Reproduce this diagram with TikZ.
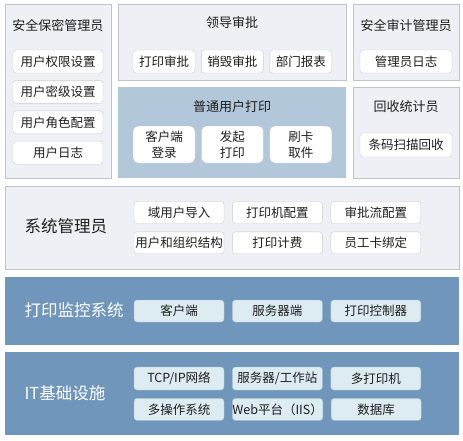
\documentclass[tikz,border=0pt]{standalone}
\usepackage{fontspec}
\setmainfont{Noto Sans CJK SC}
\usetikzlibrary{positioning}
\definecolor{panelfill}{HTML}{EEF0F5}
\definecolor{panelline}{HTML}{BFC4CB}
\definecolor{userfill}{HTML}{B2C7DA}
\definecolor{darkfill}{HTML}{7096BC}
\definecolor{cellline}{HTML}{C8CCD2}
\definecolor{darkcellfill}{HTML}{DCECF1}
\definecolor{darkcellline}{HTML}{A8C0D2}
\definecolor{inktext}{HTML}{1E1E1E}
\tikzset{
  panel/.style={draw=panelline,fill=panelfill,anchor=north west,inner sep=0pt},
  userpanel/.style={panel,draw=none,fill=userfill},
  darkpanel/.style={panel,draw=none,fill=darkfill},
  cell/.style={draw=cellline,fill=white,rounded corners=3pt,inner sep=0pt,minimum height=23pt,align=center,text=inktext,font=\fontsize{12.5}{15.5}\selectfont},
  darkcell/.style={cell,draw=darkcellline,fill=darkcellfill},
  title/.style={text=inktext,font=\fontsize{13}{15}\selectfont},
  bigtitle/.style={anchor=west,text=inktext,font=\fontsize{16.5}{19}\selectfont},
}

\begin{document}
\begin{tikzpicture}[x=1pt,y=-1pt]
  \fill[white] (0,0) rectangle (463,440);
  % panels
  \node[panel,minimum width=106pt,minimum height=174pt] (secpanel) at (5,4) {};
  \node[panel,minimum width=228pt,minimum height=76pt] (leadpanel) at (118,4) {};
  \node[userpanel,minimum width=228pt,minimum height=91pt] (userpanel) at (118,87) {};
  \node[panel,minimum width=106pt,minimum height=76pt] (auditpanel) at (353,4) {};
  \node[panel,minimum width=106pt,minimum height=91pt] (recpanel) at (353,87) {};
  \node[panel,minimum width=454pt,minimum height=83pt] (syspanel) at (5,186) {};
  \node[darkpanel,minimum width=454pt,minimum height=68pt] (monpanel) at (5,277) {};
  \node[darkpanel,minimum width=454pt,minimum height=83pt] (infrapanel) at (5,352) {};
  % titles
  \node[title] (sectitle) at (58,26) {安全保密管理员};
  \node[title] (leadtitle) at (232,23) {领导审批};
  \node[title] (audittitle) at (406,26) {安全审计管理员};
  \node[title] (usertitle) at (232,107) {普通用户打印};
  \node[title] (rectitle) at (406,107) {回收统计员};
  \node[bigtitle] (systitle) at (21,226) {系统管理员};
  \node[bigtitle,text=white] (montitle) at (21,310) {\mdseries 打印监控系统};
  \node[bigtitle,text=white] (infratitle) at (21,393) {IT基础设施};
  % security admin
  \node[cell,minimum width=90pt] (perm) at (58,61.5) {用户权限设置};
  \node[cell,minimum width=90pt,below=7pt of perm] (secret) {用户密级设置};
  \node[cell,minimum width=90pt,below=7pt of secret] (role) {用户角色配置};
  \node[cell,minimum width=90pt,below=7pt of role] (userlog) {用户日志};
  % leaders
  \node[cell,minimum width=62pt] (printok) at (164,61.5) {打印审批};
  \node[cell,minimum width=62pt,right=6pt of printok] (destroyok) {销毁审批};
  \node[cell,minimum width=62pt,right=6pt of destroyok] (report) {部门报表};
  % ordinary users
  \node[cell,minimum width=62pt,minimum height=37pt,rounded corners=5pt] (login) at (164,144.5) {客户端\\登录};
  \node[cell,minimum width=62pt,minimum height=37pt,rounded corners=5pt,right=6pt of login] (start) {发起\\打印};
  \node[cell,minimum width=62pt,minimum height=37pt,rounded corners=5pt,right=6pt of start] (fetch) {刷卡\\取件};
  % audit and recycling
  \node[cell,minimum width=92pt] (adminlog) at (406,61.5) {管理员日志};
  \node[cell,minimum width=92pt,minimum height=24pt] (scan) at (406,145) {条码扫描回收};
  % system admin
  \node[cell,minimum width=90pt,minimum height=22pt] (domain) at (179,212.5) {域用户导入};
  \node[cell,minimum width=90pt,minimum height=22pt,right=8pt of domain] (printer) {打印机配置};
  \node[cell,minimum width=90pt,minimum height=22pt,right=8pt of printer] (flow) {审批流配置};
  \node[cell,minimum width=90pt,minimum height=22pt,below=8pt of domain] (org) {用户和组织结构};
  \node[cell,minimum width=90pt,minimum height=22pt,right=8pt of org] (billing) {打印计费};
  \node[cell,minimum width=90pt,minimum height=22pt,right=8pt of billing] (card) {员工卡绑定};
  % print monitoring
  \node[darkcell,minimum width=90pt,minimum height=22pt] (client) at (179,311) {客户端};
  \node[darkcell,minimum width=90pt,minimum height=22pt,right=8pt of client] (server) {服务器端};
  \node[darkcell,minimum width=90pt,minimum height=22pt,right=8pt of server] (ctrl) {打印控制器};
  % infrastructure
  \node[darkcell,minimum width=90pt] (net) at (179,378.5) {TCP/IP网络};
  \node[darkcell,minimum width=90pt,right=8pt of net] (station) {服务器/工作站};
  \node[darkcell,minimum width=90pt,right=8pt of station] (multi) {多打印机};
  \node[darkcell,minimum width=90pt,minimum height=22pt,below=8pt of net] (os) {多操作系统};
  \node[darkcell,minimum width=90pt,minimum height=22pt,right=8pt of os] (web) {Web平台（IIS）};
  \node[darkcell,minimum width=90pt,minimum height=22pt,right=8pt of web] (db) {数据库};
\end{tikzpicture}
\end{document}
